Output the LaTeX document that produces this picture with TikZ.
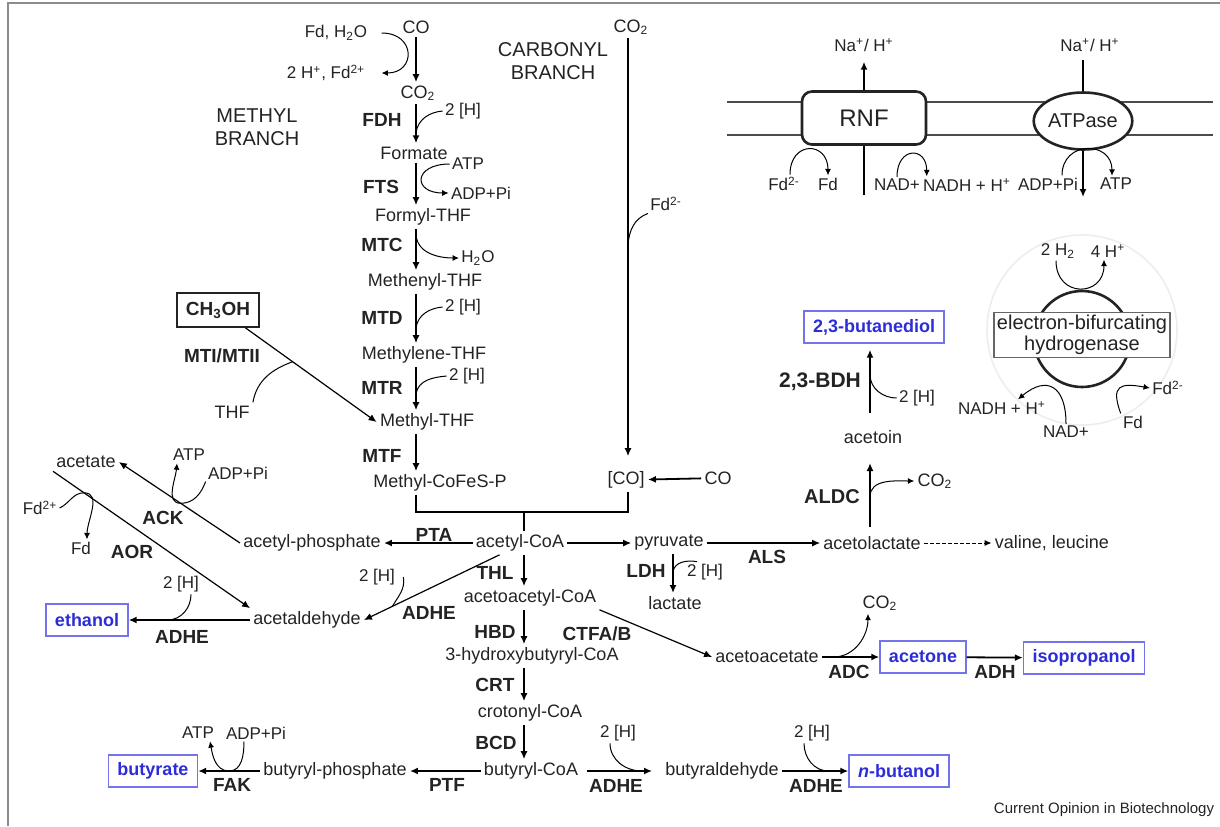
\documentclass[tikz,border=0pt]{standalone}
\usepackage{fontspec}
\setmainfont{Liberation Sans}
\usetikzlibrary{arrows.meta,shapes.geometric}

\definecolor{prodtext}{RGB}{45,45,215}
\definecolor{prodframe}{RGB}{115,115,235}
\definecolor{ink}{RGB}{35,35,35}

\newcommand{\metfont}{\fontsize{9}{10.5}\selectfont}
\newcommand{\coffont}{\fontsize{8.5}{10}\selectfont}
\newcommand{\enzfont}{\fontsize{9.5}{11}\selectfont\bfseries}

\tikzset{
  met/.style={font=\metfont, text=ink, inner sep=1.5pt},
  cof/.style={font=\coffont, text=ink, inner sep=1pt},
  enz/.style={font=\enzfont, text=ink, inner sep=1pt},
  head/.style={font=\fontsize{10}{11.5}\selectfont, text=ink, align=center, inner sep=1pt},
  prod/.style={draw=prodframe, line width=0.7pt, text=prodtext, font=\fontsize{9}{10}\selectfont\bfseries, minimum height=16pt, inner xsep=4.5pt},
  rxn/.style={line width=0.9pt, -{Latex[length=4pt,width=3.5pt]}},
  diag/.style={line width=0.6pt, -{Latex[length=4pt,width=3.5pt]}},
  side/.style={line width=0.5pt},
  sidearr/.style={line width=0.5pt, -{Latex[length=3.2pt,width=3pt]}},
}

\begin{document}
\begin{tikzpicture}[x=0.5pt, y=0.5pt]
\useasboundingbox (0,0) rectangle (1220,-826);
\draw[black!45, line width=1pt] (8,-826) -- (8,-3) -- (1220,-3);

% arrow columns
\coordinate (ax) at (416,0);
\coordinate (bx) at (524,0);
\coordinate (cx) at (628,0);
\coordinate (lx) at (673,0);
\coordinate (rx) at (870,0);

% methyl branch
\node[met] (co) at (416,-27) {CO};
\node[cof] (fdw) at (336,-33) {Fd, H\textsubscript{2}O};
\node[cof] (hfd) at (326,-73) {2 H\textsuperscript{+}, Fd\textsuperscript{2+}};
\node[met] (co2m) at (418,-93) {CO\textsubscript{2}};
\node[head] (methyl) at (257,-127) {METHYL\\BRANCH};
\draw[rxn] (co.south -| ax) -- (co2m.north -| ax);
\draw[sidearr] ([xshift=6pt]fdw.east) to[out=0,in=0,looseness=2.2] ([xshift=7pt]hfd.east);

\node[met] (formate) at (414,-153) {Formate};
\draw[rxn] (co2m.south -| ax) -- coordinate[pos=0.72] (jfdh) (formate.north -| ax);
\node[enz] (fdh) at (382,-120) {FDH};
\node[cof] (h2a) at (463,-111) {2 [H]};
\draw[side] (h2a.west) to[out=185,in=80] (jfdh);

\node[met] (formyl) at (423,-217) {Formyl-THF};
\draw[rxn] (formate.south -| ax) -- (formyl.north -| ax);
\node[enz] (fts) at (381,-187) {FTS};
\node[cof] (atpa) at (468,-164) {ATP};
\node[cof] (adpa) at (481,-193) {ADP+Pi};
\draw[sidearr] (atpa.west) to[out=180,in=180,looseness=3.2] (adpa.west);

\node[met] (methenyl) at (425,-282) {Methenyl-THF};
\draw[rxn] (formyl.south -| ax) -- coordinate[pos=0.15] (jmtc) (methenyl.north -| ax);
\node[enz] (mtc) at (382,-245) {MTC};
\node[cof] (h2o) at (478,-258) {H\textsubscript{2}O};
\draw[sidearr] (jmtc) to[out=-85,in=180] (h2o.west);

\node[met] (methylene) at (424,-355) {Methylene-THF};
\draw[rxn] (methenyl.south -| ax) -- coordinate[pos=0.68] (jmtd) (methylene.north -| ax);
\node[enz] (mtd) at (382,-318) {MTD};
\node[cof] (h2b) at (463,-307) {2 [H]};
\draw[side] (h2b.west) to[out=185,in=80] (jmtd);

\node[met] (methylthf) at (427,-422) {Methyl-THF};
\draw[rxn] (methylene.south -| ax) -- coordinate[pos=0.62] (jmtr) (methylthf.north -| ax);
\node[enz] (mtr) at (382,-388) {MTR};
\node[cof] (h2c) at (467,-376) {2 [H]};
\draw[side] (h2c.west) to[out=185,in=80] (jmtr);

\node[met] (cofes) at (440,-483) {Methyl-CoFeS-P};
\draw[rxn] (methylthf.south -| ax) -- (cofes.north -| ax);
\node[enz] (mtf) at (382,-456) {MTF};

% methanol
\node[draw=ink, line width=0.8pt, font=\enzfont, text=ink, minimum height=17pt, inner xsep=4.5pt] (ch3oh) at (218,-310) {CH\textsubscript{3}OH};
\node[enz] (mti) at (222,-356) {MTI/MTII};
\node[met] (thf) at (232,-412) {THF};
\draw[diag] (ch3oh.-33) -- coordinate[pos=0.36] (jmti) (methylthf.west);
\draw[side] (thf.north east) to[out=80,in=200] (jmti);

% carbonyl branch
\node[head] (carbonyl) at (553,-61) {CARBONYL\\BRANCH};
\node[met] (co2c) at (631,-27) {CO\textsubscript{2}};
\node[met] (cobr) at (626,-480) {[CO]};
\node[cof] (fd2a) at (666,-204) {Fd\textsuperscript{2-}};
\draw[rxn, shorten >=6pt] (co2c.south -| cx) -- coordinate[pos=0.48] (jfd) (cobr.north -| cx);
\draw[side] (fd2a.south west) to[out=200,in=85] (jfd);
\node[met] (coc) at (718,-478) {CO};
\draw[rxn] (coc) -- (cobr);

% merge to acetyl-CoA
\coordinate (bj) at (524,-512);
\draw[line width=0.6pt] (cofes.south -| ax) |- (bj) -| (cobr.south -| cx);
\node[met] (accoa) at (520,-543) {acetyl-CoA};
\draw[line width=0.8pt] (bj) -- (accoa.north -| bj);

\node[met] (acp) at (312,-543) {acetyl-phosphate};
\draw[rxn] (accoa) -- (acp);
\node[enz] (pta) at (434,-535) {PTA};
\node[met] (pyr) at (669,-543) {pyruvate};
\draw[diag] (accoa) -- (pyr);

\node[met] (acac) at (530,-598) {acetoacetyl-CoA};
\draw[rxn] (accoa.south -| bx) -- (acac.north -| bx);
\node[enz] (thl) at (495,-573) {THL};

\node[met] (acald) at (307,-620) {acetaldehyde};
\draw[diag] (accoa.-150) -- coordinate[pos=0.79] (jadhe) (acald.east);
\node[enz] (adheb) at (429,-613) {ADHE};
\node[cof] (h2g) at (377,-577) {2 [H]};
\draw[side] ([xshift=3pt]h2g.east) to[out=-80,in=60] (jadhe);

% pyruvate
\node[met] (lactate) at (675,-603) {lactate};
\draw[rxn] (pyr.south -| lx) -- coordinate[pos=0.45] (jldh) (lactate.north -| lx);
\node[enz] (ldh) at (646,-571) {LDH};
\node[cof] (h2d) at (705,-572) {2 [H]};
\draw[side] ([xshift=-4pt]h2d.north) to[out=170,in=80] (jldh);

\node[met] (acl) at (872,-543) {acetolactate};
\draw[diag] (pyr) -- (acl);
\node[enz] (als) at (767,-557) {ALS};
\node[met] (valleu) at (1052,-543) {valine, leucine};
\draw[line width=0.5pt, dash pattern=on 2pt off 1pt, -{Latex[length=3.5pt,width=3pt]}] (acl) -- (valleu);

\node[met] (acetoin) at (873,-437) {acetoin};
\draw[rxn, shorten <=3pt, shorten >=8pt] (acl.north -| rx) -- coordinate[pos=0.42] (jaldc) (acetoin.south -| rx);
\node[enz, font=\fontsize{10}{11}\selectfont\bfseries] (aldc) at (832,-497) {ALDC};
\node[met] (co2r) at (935,-481) {CO\textsubscript{2}};
\draw[sidearr] (jaldc) to[out=90,in=180] (co2r.west);

\node[prod] (bdo) at (874,-327) {2,3-butanediol};
\draw[rxn, shorten <=7pt, shorten >=3pt] (acetoin.north -| rx) -- coordinate[pos=0.63] (jbdh) (bdo.south -| rx);
\node[enz, font=\fontsize{10.5}{12}\selectfont\bfseries] (bdh) at (820,-382) {2,3-BDH};
\node[cof] (h2e) at (917,-398) {2 [H]};
\draw[side] (h2e.west) to[out=180,in=-90] (jbdh);

% acetate and ethanol
\node[met] (acetate) at (86,-462) {acetate};
\draw[diag] (acp.west) -- coordinate[pos=0.49] (jack) (acetate.east);
\node[cof] (atpb) at (189,-455) {ATP};
\node[cof] (adpb) at (238,-473) {ADP+Pi};
\node[enz] (ack) at (163,-518) {ACK};
\draw[sidearr] (adpb.south west) to[out=-110,in=0] (jack) to[out=180,in=-95] ([xshift=-6pt]atpb.south);

\node[cof] (fd2p) at (40,-508) {Fd\textsuperscript{2+}};
\node[cof] (fdb) at (81,-548) {Fd};
\node[enz] (aor) at (132,-552) {AOR};
\draw[diag] (acetate.south west) -- coordinate[pos=0.157] (jaor) (acald.north west);
\draw[sidearr] (fd2p.east) to[out=25,in=180] (jaor) to[out=0,in=90] ([xshift=3pt]fdb.north);

\node[prod] (ethanol) at (87,-620) {ethanol};
\draw[rxn] (acald) -- coordinate[pos=0.68] (jeth) (ethanol);
\node[enz] (adhea) at (182,-637) {ADHE};
\node[cof] (h2f) at (181,-584) {2 [H]};
\draw[side] ([xshift=5pt]h2f.south) to[out=-90,in=0] (jeth);

% acetone and isopropanol
\node[met] (acetoacetate) at (767,-657) {acetoacetate};
\draw[diag] (acac.south east) -- (acetoacetate.west);
\node[enz] (ctfab) at (597,-634) {CTFA/B};
\node[prod] (acetone) at (923,-657) {acetone};
\draw[rxn] (acetoacetate) -- coordinate[pos=0.2] (jadc) (acetone);
\node[enz] (adc) at (849,-672) {ADC};
\node[met] (co2d) at (880,-603) {CO\textsubscript{2}};
\draw[sidearr] (jadc) to[out=0,in=-90] ([xshift=-6pt]co2d.south);
\node[prod] (isoprop) at (1084,-658) {isopropanol};
\draw[rxn] (acetone) -- (isoprop);
\node[enz] (adh) at (995,-672) {ADH};

% butyrate and butanol
\node[met] (hbcoa) at (532,-656) {3-hydroxybutyryl-CoA};
\draw[rxn] (acac.south -| bx) -- (hbcoa.north -| bx);
\node[enz] (hbd) at (495,-632) {HBD};
\node[met] (croton) at (530,-713) {crotonyl-CoA};
\draw[rxn] (hbcoa.south -| bx) -- (croton.north -| bx);
\node[enz] (crt) at (495,-685) {CRT};
\node[met] (butcoa) at (531,-771) {butyryl-CoA};
\draw[rxn] (croton.south -| bx) -- (butcoa.north -| bx);
\node[enz] (bcd) at (496,-743) {BCD};

\node[met] (butp) at (335,-771) {butyryl-phosphate};
\draw[rxn] (butcoa) -- (butp);
\node[enz] (ptf) at (447,-785) {PTF};
\node[prod] (butyrate) at (153,-771) {butyrate};
\draw[rxn] (butp) -- coordinate[pos=0.5] (jfak) (butyrate);
\node[enz] (fak) at (232,-785) {FAK};
\node[cof] (atpc) at (198,-733) {ATP};
\node[cof] (adpc) at (256,-733) {ADP+Pi};
\draw[sidearr] ([xshift=-6pt]adpc.south) to[out=-90,in=0] (jfak) to[out=180,in=-80] ([xshift=6pt]atpc.south);

\node[met] (butald) at (722,-771) {butyraldehyde};
\draw[rxn, shorten <=3pt, shorten >=5pt] (butcoa) -- coordinate[pos=0.75] (jadhec) (butald);
\node[cof] (h2h) at (618,-733) {2 [H]};
\node[enz] (adhec) at (616,-786) {ADHE};
\draw[side] ([xshift=-4pt]h2h.south) to[out=-90,in=180] (jadhec);

\node[prod] (butanol) at (899,-771) {\textit{n}-butanol};
\draw[rxn] (butald) -- coordinate[pos=0.7] (jadhed) (butanol);
\node[cof] (h2i) at (812,-733) {2 [H]};
\node[enz] (adhed) at (816,-786) {ADHE};
\draw[side] ([xshift=-4pt]h2i.south) to[out=-90,in=180] (jadhed);

\node[font=\fontsize{7.5}{9}\selectfont, text=ink] (credit) at (1104,-810) {Current Opinion in Biotechnology};

% membrane
\draw[black!70, line width=0.6pt] (727,-102) -- (1213,-102) (727,-135) -- (1213,-135);
\node[draw=ink, line width=1.3pt, rounded corners=5pt, fill=white, minimum width=62pt, minimum height=26.5pt, font=\fontsize{12}{14}\selectfont, text=ink] (rnf) at (864,-118) {RNF};
\node[draw=ink, ellipse, line width=1.3pt, fill=white, minimum height=28.5pt, inner sep=0pt, font=\fontsize{10}{12}\selectfont, text=ink] (atpase) at (1083,-121) {ATPase};
\node[cof] (naa) at (864,-45) {Na\textsuperscript{+}/ H\textsuperscript{+}};
\node[cof] (nab) at (1090,-45) {Na\textsuperscript{+}/ H\textsuperscript{+}};
\draw[rxn, shorten >=4pt] (rnf.north) -- (naa.south);
\coordinate (rnfin) at (864,-195);
\draw[line width=0.9pt] (rnf.south) -- (rnfin);
\draw[line width=0.9pt, shorten <=3pt] (nab.south -| atpase) -- (atpase.north);
\coordinate (atpout) at (1083,-197);
\draw[rxn] (atpase.south) -- (atpout);

\node[cof] (fd2b) at (784,-184) {Fd\textsuperscript{2-}};
\node[cof] (fdc) at (828,-184) {Fd};
\draw[sidearr] ([xshift=3pt]fd2b.north) to[out=90,in=90,looseness=2.3] (fdc.north);
\node[cof] (nada) at (897,-185) {NAD+};
\node[cof] (nadha) at (967,-185) {NADH + H\textsuperscript{+}};
\draw[sidearr] (nada.north) to[out=90,in=90,looseness=2.6] ([xshift=3pt]nadha.north west);
\node[cof] (adpd) at (1048,-184) {ADP+Pi};
\node[cof] (atpd) at (1116,-184) {ATP};
\draw[sidearr] ([xshift=7pt]adpd.north) to[out=90,in=90,looseness=1.8] ([xshift=-2pt]atpd.north);

% hydrogenase
\node[circle, draw=black!7, line width=0.8pt, minimum size=95pt] (halo) at (1082,-330) {};
\node[circle, draw=ink, line width=1.3pt, minimum size=48pt] (hring) at (1082,-339) {};
\node[draw=black!60, fill=white, line width=0.6pt, font=\fontsize{10}{10.5}\selectfont, text=ink, align=center, inner xsep=1.5pt, inner ysep=1.5pt] (hbox) at (1082,-335) {electron-bifurcating\\hydrogenase};
\node[cof] (h2gas) at (1058,-251) {2 H\textsubscript{2}};
\node[cof] (hplus) at (1108,-251) {4 H\textsuperscript{+}};
\draw[sidearr] ([xshift=-1pt]h2gas.south) to[out=-90,in=-90,looseness=2] ([xshift=-2pt]hplus.south);
\node[cof] (nadhb) at (1002,-408) {NADH + H\textsuperscript{+}};
\node[cof] (nadb) at (1066,-432) {NAD+};
\draw[sidearr] (nadb.north) to[out=90,in=40,looseness=1.8] ([xshift=8pt]nadhb.north);
\node[cof] (fd2c) at (1168,-388) {Fd\textsuperscript{2-}};
\node[cof] (fdd) at (1133,-422) {Fd};
\draw[sidearr] (fdd.north west) to[out=110,in=170,looseness=2] (fd2c.west);
\end{tikzpicture}
\end{document}
